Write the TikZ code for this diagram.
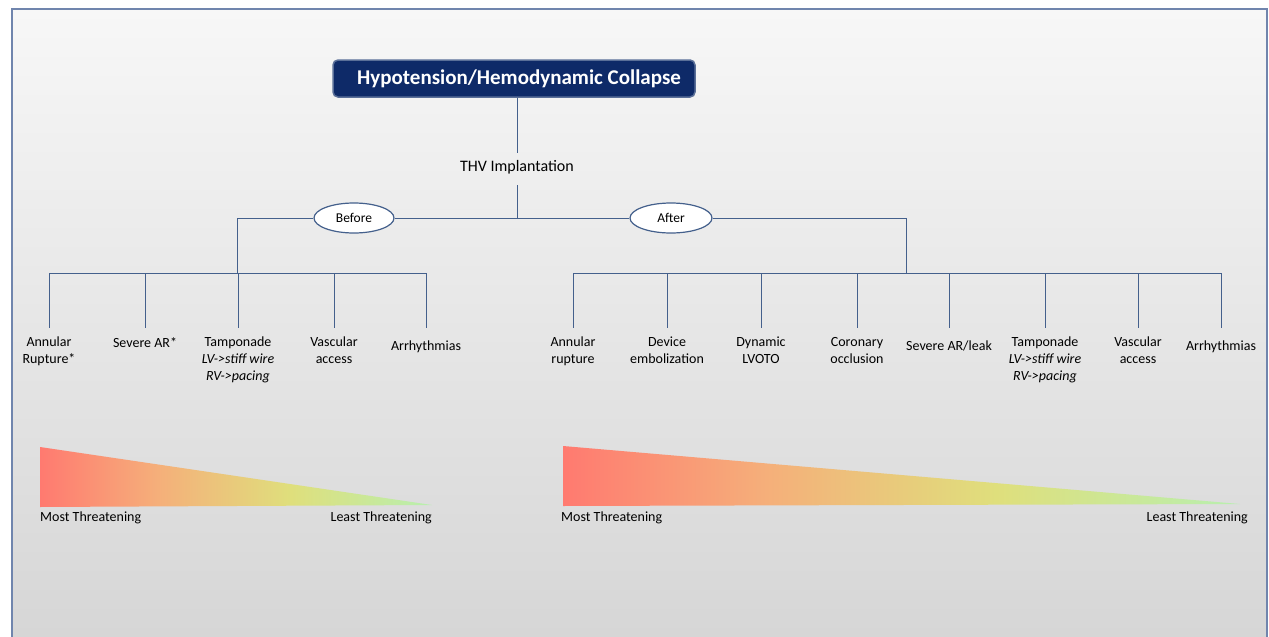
\documentclass[tikz,border=0pt]{standalone}
\usepackage{fontspec}
\setmainfont{Carlito}
\usetikzlibrary{shapes.geometric,positioning}

\definecolor{navybox}{HTML}{0E2A68}
\definecolor{navyrim}{HTML}{5A6F98}
\definecolor{wirecol}{HTML}{44608C}
\definecolor{framecol}{HTML}{7085AD}
\definecolor{bgtop}{HTML}{F7F7F7}
\definecolor{bgbottom}{HTML}{D6D6D6}
\definecolor{threatred}{HTML}{FF7A70}
\definecolor{threatorange}{HTML}{F5AF7A}
\definecolor{threatyellow}{HTML}{DFDF7C}
\definecolor{threatgreen}{HTML}{B8EFB0}

\pgfdeclarehorizontalshading{threat}{100bp}{color(0bp)=(threatred); color(25bp)=(threatred); color(40bp)=(threatorange); color(57bp)=(threatyellow); color(75bp)=(threatgreen); color(100bp)=(threatgreen)}

\begin{document}
\begin{tikzpicture}[x=1pt,y=-1pt,
    wire/.style={draw=wirecol, line width=0.9pt},
    titlebox/.style={draw=navyrim, line width=1.5pt, fill=navybox, rounded corners=5pt,
        minimum width=362pt, minimum height=37pt, text=white,
        font=\fontsize{21}{24}\bfseries\selectfont},
    branch/.style={ellipse, draw=wirecol, line width=1.2pt, fill=white,
        minimum width=80pt, minimum height=30pt, inner sep=0pt,
        font=\fontsize{13.5}{16}\selectfont},
    leaf/.style={anchor=north, align=center, inner sep=0pt,
        font=\fontsize{14}{17}\selectfont},
    scale label/.style={inner sep=0pt, font=\fontsize{14}{16}\selectfont}]

    \useasboundingbox (0,0) rectangle (1269,637);

    % background panel
    \fill[white] (0,0) rectangle (1269,637);
    \shade[top color=bgtop, bottom color=bgbottom] (12,9) rectangle (1267,637);
    \draw[framecol, line width=2pt] (12,637) -- (12,9) -- (1267,9) -- (1267,637);

    % top of the tree
    \node[titlebox] (title) at (514,78.5) {\hspace*{10pt}Hypotension/Hemodynamic Collapse};
    \node[font=\fontsize{16}{18}\selectfont] (thv) at (517,167) {THV Implantation};
    \coordinate (hub) at (517,218);
    \node[branch] (before) at (354,218) {Before};
    \node[branch, minimum width=82pt] (after) at (671,218) {After};
    \coordinate (forkL) at (237,218);
    \coordinate (forkR) at (906,218);
    \coordinate (busL) at (237,273);
    \coordinate (busR) at (906,273);
    \coordinate (stop) at (0,328);

    \draw[wire, shorten >=4pt] (thv.north |- title.south) -- (thv.north);
    \draw[wire, shorten <=8pt] (thv.south) -- (hub);
    \draw[wire] (forkL) -- (before.west);
    \draw[wire] (before.east) -- (after.west);
    \draw[wire] (after.east) -- (forkR);
    \draw[wire] (forkL) -- (busL);
    \draw[wire] (forkR) -- (busR);

    % before leaves
    \foreach \x/\y/\name/\txt in {
        49/337/bef1/{Annular\\Rupture*},
        145/337/bef2/{Severe AR*},
        238/337/bef3/{Tamponade\\\textit{LV->stiff wire}\\\textit{RV->pacing}},
        334/337/bef4/{Vascular\\access},
        426/341/bef5/{Arrhythmias}}
        \node[leaf] (\name) at (\x,\y) {\txt};

    % after leaves
    \foreach \x/\y/\name/\txt in {
        573/337/aft1/{Annular\\rupture},
        667/337/aft2/{Device\\embolization},
        761/337/aft3/{Dynamic\\LVOTO},
        857/337/aft4/{Coronary\\occlusion},
        949/341/aft5/{Severe AR/leak},
        1045/337/aft6/{Tamponade\\\textit{LV->stiff wire}\\\textit{RV->pacing}},
        1138/337/aft7/{Vascular\\access},
        1221/341/aft8/{Arrhythmias}}
        \node[leaf] (\name) at (\x,\y) {\txt};

    \draw[wire] (bef1.north |- busL) -- (bef5.north |- busL);
    \draw[wire] (aft1.north |- busR) -- (aft8.north |- busR);
    \foreach \name in {bef1,bef2,bef3,bef4,bef5}
        \draw[wire] (\name.north |- busL) -- (\name.north |- stop);
    \foreach \name in {aft1,aft2,aft3,aft4,aft5,aft6,aft7,aft8}
        \draw[wire] (\name.north |- busR) -- (\name.north |- stop);

    % threat scales
    \shade[shading=threat] (40,447) -- (432,505) -- (40,507) -- cycle;
    \shade[shading=threat] (563,446) -- (1240,504) -- (563,506) -- cycle;
    \node[scale label, anchor=north west] (mostL) at (40,512) {Most Threatening};
    \node[scale label, anchor=north east] (leastL) at (432,512) {Least Threatening};
    \node[scale label, anchor=north west] (mostR) at (561,512) {Most Threatening};
    \node[scale label, anchor=north east] (leastR) at (1248,512) {Least Threatening};
\end{tikzpicture}
\end{document}
